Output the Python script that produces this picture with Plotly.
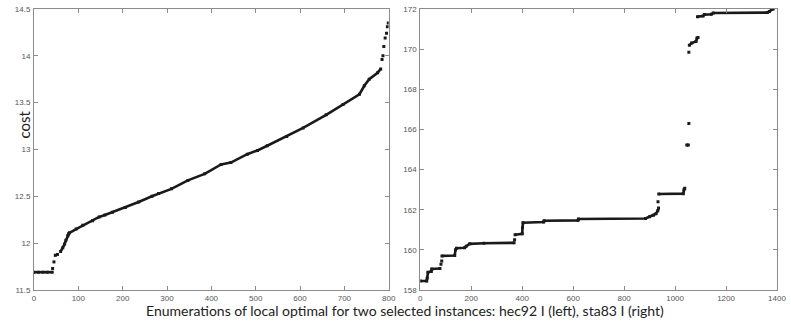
import plotly.graph_objects as go

# Left panel: hec92 I  (enumeration index, cost); None marks a break between runs
left_x = [0, 10, 20, 30, 41, None, 42, None, 45, None, 48, 53, None,
          60, 65, 69, 72, 76, 78, 80, 95, 110, 132, 147, 160, 177, 206, 236, 266, 281,
          310, 347, 385, 422, 444, 481, 504, 526, 570, 607, 659, 697, 734, 745, 756,
          775, 782, None, 785, None, 787, None, 789, None, 792, None, 795, None, 797, None, 799]
left_y = [11.69, 11.69, 11.69, 11.69, 11.69, None, 11.73, None, 11.80, None, 11.87, 11.88, None,
          11.91, 11.95, 11.99, 12.03, 12.08, 12.10, 12.11, 12.15, 12.19, 12.24, 12.28, 12.30, 12.33,
          12.38, 12.44, 12.50, 12.53, 12.58, 12.67, 12.74, 12.84, 12.86, 12.95, 12.99, 13.04, 13.14,
          13.23, 13.37, 13.48, 13.59, 13.68, 13.75, 13.82, 13.86, None, 13.96, None, 14.00, None,
          14.10, None, 14.19, None, 14.24, None, 14.31, None, 14.35]

# Right panel: sta83 I
right_x = [0, 25, 27, 30, 43, 45, 77, None, 81, None, 84, None, 85, 135, 138, 142, 174, 180, 194,
           250, 368, None, 370, None, 372, 400, 401, 403, 484, 486, 619, 621, 884, 900, 915, 925,
           932, 935, None, 933, None, 936, 1032, 1035, 1038, None, 1046, 1052, None, 1054, None,
           1054, None, 1056, 1065, 1082, 1086, 1090, None, 1088, 1110, 1115, 1142, 1150, 1362,
           1370, 1378, 1385]
right_y = [158.45, 158.45, 158.60, 158.88, 158.92, 159.05, 159.07, None, 159.28, None, 159.44, None,
           159.70, 159.72, 160.00, 160.08, 160.10, 160.18, 160.30, 160.33, 160.35, None, 160.50, None,
           160.75, 160.80, 161.10, 161.35, 161.39, 161.45, 161.47, 161.54, 161.56, 161.65, 161.72,
           161.80, 161.95, 162.08, None, 162.40, None, 162.78, 162.80, 163.00, 163.07, None, 165.22,
           165.22, None, 166.30, None, 169.85, None, 170.20, 170.30, 170.38, 170.55, 170.58, None,
           171.62, 171.65, 171.72, 171.74, 171.80, 171.82, 171.88, 171.97, 172.00]

left_xticks = [0, 100, 200, 300, 400, 500, 600, 700, 800]
left_yticks = [11.5, 12, 12.5, 13, 13.5, 14, 14.5]
right_xticks = [0, 200, 400, 600, 800, 1000, 1200, 1400]
right_yticks = [158, 160, 162, 164, 166, 168, 170, 172]

fig = go.Figure()
style = dict(mode="lines+markers", connectgaps=False,
             line=dict(color="#1a1a1a", width=2.6),
             marker=dict(color="#1a1a1a", size=3, symbol="square"),
             showlegend=False, hoverinfo="skip")
fig.add_trace(go.Scatter(x=left_x, y=left_y, xaxis="x", yaxis="y", **style))
fig.add_trace(go.Scatter(x=right_x, y=right_y, xaxis="x2", yaxis="y2", **style))

W, H = 791, 327
ml, mr, mt, mb = 34, 5, 7, 37
pw = W - ml - mr

axis_common = dict(showline=True, mirror="ticks", linecolor="#8c8c8c", linewidth=1,
                   ticks="inside", ticklen=4, tickcolor="#8c8c8c", showgrid=False,
                   zeroline=False, tickfont=dict(family="Arial", size=8, color="#555"))

fig.update_layout(
    width=W, height=H,
    margin=dict(l=ml, r=mr, t=mt, b=mb),
    plot_bgcolor="white", paper_bgcolor="white",
    xaxis=dict(domain=[0, (393 - ml) / pw], range=[0, 800], tickvals=left_xticks,
               anchor="y", ticklabelstandoff=0, **axis_common),
    yaxis=dict(domain=[0, 1], range=[11.5, 14.5], tickvals=left_yticks, anchor="x",
               ticklabelstandoff=1, **axis_common),
    xaxis2=dict(domain=[(425 - ml) / pw, 1], range=[0, 1400], tickvals=right_xticks,
                anchor="y2", ticklabelstandoff=0, **axis_common),
    yaxis2=dict(domain=[0, 1], range=[158, 172], tickvals=right_yticks, anchor="x2",
                ticklabelstandoff=1, **axis_common),
    annotations=[
        dict(text="cost", xref="paper", yref="paper",
             x=(13 - ml) / pw, y=1 - (123 - mt) / (H - mt - mb), textangle=-90,
             showarrow=False, font=dict(family="Lato", size=15, color="#222")),
        dict(text="Enumerations of local optimal for two selected instances: hec92 I (left), sta83 I (right)",
             xref="paper", yref="paper", x=(409 - ml) / pw, y=-(311 - (H - mb)) / (H - mt - mb),
             xanchor="center", yanchor="middle", showarrow=False,
             font=dict(family="Lato", size=14, color="#222")),
    ],
)

fig.write_html("out.html", config={"displayModeBar": False},
               post_script="document.body.style.margin='0px';document.body.style.overflow='hidden';")
